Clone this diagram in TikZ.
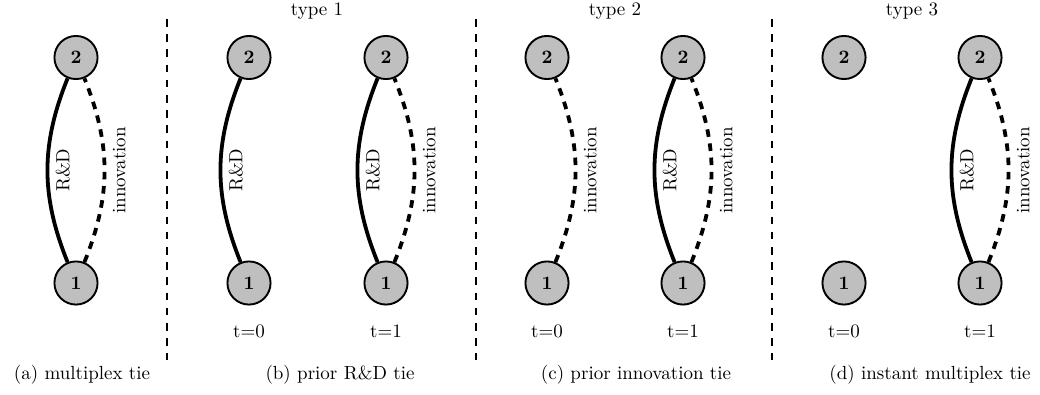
\documentclass[tikz,border=0pt]{standalone}
\begin{document}
\begin{tikzpicture}[x=0.5263pt,y=-0.5263pt,
  actor/.style={circle, draw, line width=1pt, fill=lightgray, minimum size=22.7pt, inner sep=0pt, font=\bfseries},
  rdtie/.style={line width=2pt},
  innotie/.style={line width=2pt, dash pattern=on 4pt off 3.5pt},
  divider/.style={line width=1.3pt, dash pattern=on 4pt off 4pt},
  elabel/.style={midway, rotate=90, anchor=north},
  txt/.style={inner sep=0pt}]
\useasboundingbox (0,0) rectangle (1040,394);

% dividers
\foreach \x/\n in {167/1,476/2,772/3}{
  \coordinate (dt\n) at (\x,19);
  \coordinate (db\n) at (\x,360);
  \draw[divider] (dt\n) -- (db\n);
}

% panel (a)
\node[actor] (a2) at (76,57.5) {2};
\node[actor] (a1) at (76,283) {1};
\draw[rdtie] (a1) to[bend left=22] node[elabel] {R\&D} (a2);
\draw[innotie] (a1) to[bend right=22] node[elabel] {innovation} (a2);
\node[txt] (capa) at (82,375) {(a) multiplex tie};

% panel (b)
\node[txt] (typeb) at (317,11) {type 1};
\node[actor] (b02) at (249,57.5) {2};
\node[actor] (b01) at (249,283) {1};
\node[actor] (b12) at (386,57.5) {2};
\node[actor] (b11) at (386,283) {1};
\draw[rdtie] (b01) to[bend left=22] node[elabel] {R\&D} (b02);
\draw[rdtie] (b11) to[bend left=22] node[elabel] {R\&D} (b12);
\draw[innotie] (b11) to[bend right=22] node[elabel] {innovation} (b12);
\node[txt] (tb0) at (249,331) {t=0};
\node[txt] (tb1) at (386,331) {t=1};
\node[txt] (capb) at (340,375) {(b) prior R\&D tie};

% panel (c)
\node[txt] (typec) at (615,11) {type 2};
\node[actor] (c02) at (547,57.5) {2};
\node[actor] (c01) at (547,283) {1};
\node[actor] (c12) at (683,57.5) {2};
\node[actor] (c11) at (683,283) {1};
\draw[innotie] (c01) to[bend right=22] node[elabel] {innovation} (c02);
\draw[rdtie] (c11) to[bend left=22] node[elabel] {R\&D} (c12);
\draw[innotie] (c11) to[bend right=22] node[elabel] {innovation} (c12);
\node[txt] (tc0) at (547,331) {t=0};
\node[txt] (tc1) at (683,331) {t=1};
\node[txt] (capc) at (636,375) {(c) prior innovation tie};

% panel (d)
\node[txt] (typed) at (912,11) {type 3};
\node[actor] (d02) at (844,57.5) {2};
\node[actor] (d01) at (844,283) {1};
\node[actor] (d12) at (980,57.5) {2};
\node[actor] (d11) at (980,283) {1};
\draw[rdtie] (d11) to[bend left=22] node[elabel] {R\&D} (d12);
\draw[innotie] (d11) to[bend right=22] node[elabel] {innovation} (d12);
\node[txt] (td0) at (844,331) {t=0};
\node[txt] (td1) at (980,331) {t=1};
\node[txt] (capd) at (930,375) {(d) instant multiplex tie};
\end{tikzpicture}
\end{document}
